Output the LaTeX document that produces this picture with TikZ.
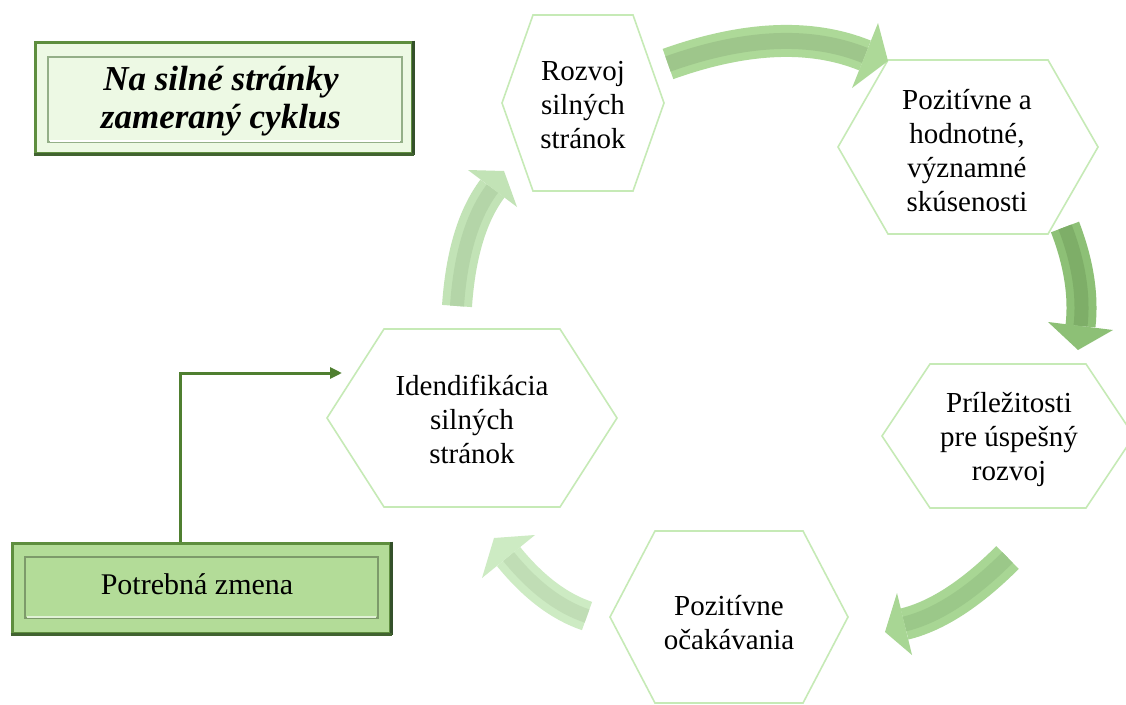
\documentclass[tikz,border=0pt]{standalone}
\usepackage{fontspec}
\setmainfont{Liberation Serif}
\usetikzlibrary{arrows.meta,calc}
\definecolor{hexline}{HTML}{C6EAB6}
\definecolor{titlefill}{HTML}{EDF9E4}
\definecolor{zmenafill}{HTML}{B3DC98}
\definecolor{boxborder}{HTML}{5E8E3E}
\definecolor{boxdark}{HTML}{34502A}
\definecolor{connc}{HTML}{4F7F30}
\definecolor{aA}{HTML}{ADD998}\definecolor{aAd}{HTML}{9EC68B}
\definecolor{aB}{HTML}{8DC076}\definecolor{aBd}{HTML}{7EAE68}
\definecolor{aC}{HTML}{A8D694}\definecolor{aCd}{HTML}{9BC889}
\definecolor{aD}{HTML}{CDEBC3}\definecolor{aDd}{HTML}{C0DDB5}
\definecolor{aE}{HTML}{C2E3B6}\definecolor{aEd}{HTML}{B4D5A8}
\newcommand{\hexa}[5]{%
  \draw[hexstyle] ({#1-#3},{#2}) -- ({#1-#3+#5},{#2-#4}) -- ({#1+#3-#5},{#2-#4})
    -- ({#1+#3},{#2}) -- ({#1+#3-#5},{#2+#4}) -- ({#1-#3+#5},{#2+#4}) -- cycle;}
% body: tail T, control C, base B ; width ; colour
\newcommand{\blockbody}[5]{%
  \draw[line width=#4pt,#5] (#1) .. controls ($(#1)!2/3!(#2)$) and ($(#3)!2/3!(#2)$) .. (#3);}
\tikzset{
  hexstyle/.style={draw=hexline, line width=1.6pt},
  hextext/.style={align=center, inner sep=0pt, font=\fontsize{29}{34}\selectfont},
  boxstyle/.style={draw=boxborder, line width=3pt, inner sep=0pt},
  conn/.style={draw=connc, line width=3pt, -{Triangle[length=12pt,width=11pt]}}
}
\begin{document}
\begin{tikzpicture}[x=1pt,y=-1pt]
\useasboundingbox (0,0) rectangle (1126,704);
\fill[white] (0,0) rectangle (1126,704);

% hexagons
\hexa{583}{103}{81}{88}{31}
\hexa{968}{147}{130}{87}{50}
\hexa{1008}{436}{126}{72}{48}
\hexa{729}{617}{119}{86}{45}
\hexa{472}{418}{145}{89}{57}

\node[hextext] (h1) at (583,105) {Rozvoj\\silných\\stránok};
\node[hextext] (h2) at (967,151) {Pozitívne a\\hodnotné,\\významné\\skúsenosti};
\node[hextext] (h3) at (1009,439) {Príležitosti\\pre úspešný\\rozvoj};
\node[hextext] (h4) at (729,623) {Pozitívne\\očakávania};
\node[hextext] (h5) at (472,419) {Idendifikácia\\silných\\stránok};

% curved block arrows
% 1: top
\blockbody{668,64}{784,22.6}{865,55.5}{32}{aA}
\blockbody{668,64}{784,22.6}{865,55.5}{16}{aAd}
\fill[aA] (878,23) -- (888,61) -- (852,88) -- cycle;
% 2: right
\blockbody{1065,227}{1085.6,280.5}{1080.5,326}{30}{aB}
\blockbody{1065,227}{1085.6,280.5}{1080.5,326}{14}{aBd}
\fill[aB] (1048,322) -- (1078,350) -- (1113,330) -- cycle;
% 3: lower right
\blockbody{1007.5,557.5}{952.7,612.3}{904.5,624}{32}{aC}
\blockbody{1007.5,557.5}{952.7,612.3}{904.5,624}{15}{aCd}
\fill[aC] (897,593) -- (885,632) -- (912,655) -- cycle;
% 4: bottom left
\blockbody{587,616}{545.7,602.2}{508.5,556.5}{30}{aD}
\blockbody{587,616}{545.7,602.2}{508.5,556.5}{14}{aDd}
\fill[aD] (535,535) -- (494,538) -- (482,578) -- cycle;
% 5: left
\blockbody{457,306}{462.3,228.6}{492.5,188.5}{30}{aE}
\blockbody{457,306}{462.3,228.6}{492.5,188.5}{14}{aEd}
\fill[aE] (468,170) -- (504,171) -- (517,207) -- cycle;

% title box
\node[boxstyle, fill=titlefill, minimum width=377pt, minimum height=111pt] (title) at (223.5,97.5) {};
\draw[boxdark, line width=3pt] (title.north east) -- (title.south east);
\draw[boxdark!70!boxborder, line width=3pt] (title.south west) -- (title.south east);
\draw[black!25!hexline, line width=1.4pt] (48,57) rectangle (402,142);
\draw[white, line width=2.5pt] (50,141) -- (400,141);
\node[align=center, inner sep=0pt, font=\fontsize{35}{38}\selectfont\bfseries\itshape] (titletext) at (221,101) {Na silné stránky\\zameraný cyklus};

% zmena box
\node[boxstyle, fill=zmenafill, minimum width=378pt, minimum height=90pt] (zmena) at (201,588) {};
\draw[boxdark, line width=3pt] (zmena.north east) -- (zmena.south east);
\draw[boxdark!70!boxborder, line width=3pt] (zmena.south west) -- (zmena.south east);
\draw[black!30!zmenafill, line width=1.4pt] (25,557) rectangle (378,618);
\draw[zmenafill!40!white, line width=2.5pt] (27,617) -- (376,617);
\node[inner sep=0pt, font=\fontsize{30}{34}\selectfont] (zmenatext) at (197,584) {Potrebná zmena};

% connector
\coordinate (idin) at (342,373);
\draw[conn] ([xshift=-21pt]zmena.north) |- (idin);
\end{tikzpicture}
\end{document}
